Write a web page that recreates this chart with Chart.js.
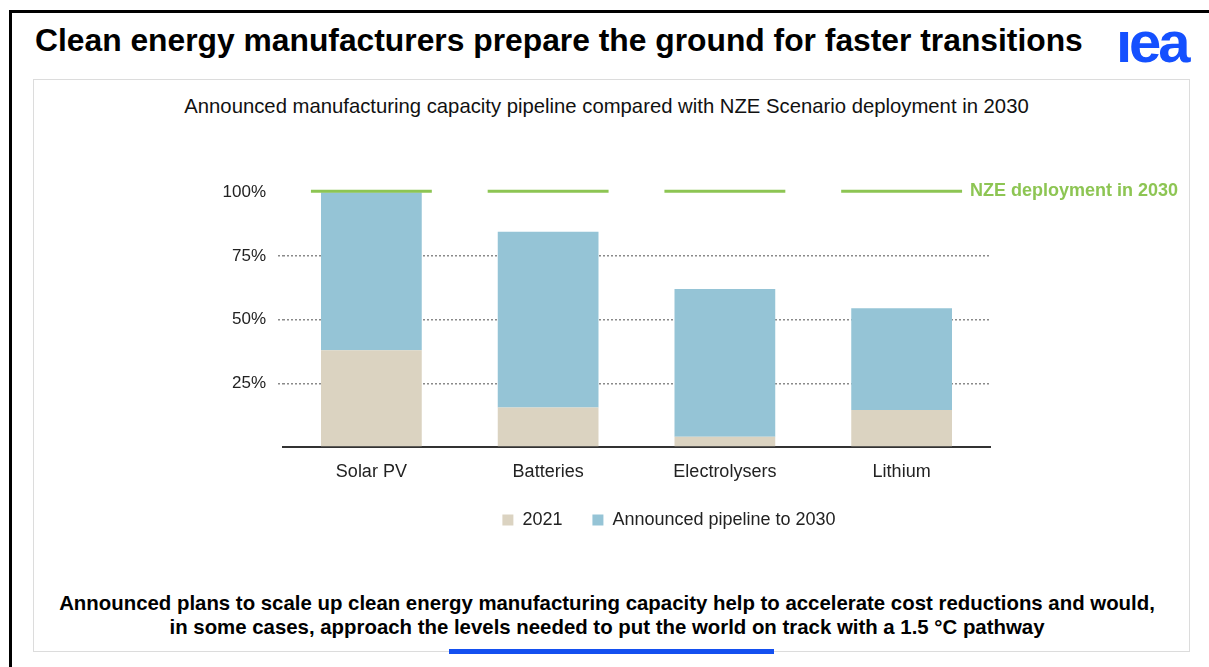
<!DOCTYPE html>
<html>
<head>
<meta charset="utf-8">
<script src="https://cdn.jsdelivr.net/npm/chart.js@4.4.1/dist/chart.umd.min.js"></script>
<style>
  html, body { margin: 0; padding: 0; background: #fff; }
  body { width: 1209px; height: 667px; position: relative; overflow: hidden; font-family: "Liberation Sans", Arial, sans-serif; }
  .frame { position: absolute; left: 9px; top: 10px; width: 1220px; height: 680px; border-left: 3px solid #000; border-top: 3px solid #000; }
  .title { position: absolute; left: 35px; top: 22px; font-size: 31.8px; font-weight: bold; color: #000; white-space: nowrap; }
  .logo { position: absolute; left: 1116px; top: 8px; font-size: 58px; font-weight: bold; color: #1450ff; letter-spacing: -3px; }
  .panel { position: absolute; left: 33px; top: 79px; width: 1155px; height: 571px; border: 1px solid #dcdcdc; }
  .subtitle { position: absolute; left: 0; width: 1213px; top: 95px; text-align: center; font-size: 20.3px; color: #111; }
  .chart-box { position: absolute; left: 180px; top: 170px; width: 1020px; height: 369px; }
  .note { position: absolute; left: 0; width: 1214px; top: 591px; text-align: center; font-size: 20.4px; font-weight: bold; line-height: 24px; color: #000; }
  .bluebar { position: absolute; left: 449px; top: 649px; width: 325px; height: 5px; background: #1450f0; }
</style>
</head>
<body>
<div class="frame"></div>
<div class="title">Clean energy manufacturers prepare the ground for faster transitions</div>
<div class="logo">ıea</div>
<div class="panel"></div>
<div class="subtitle">Announced manufacturing capacity pipeline compared with NZE Scenario deployment in 2030</div>
<div class="chart-box"><canvas id="chart"></canvas></div>
<div class="note">Announced plans to scale up clean energy manufacturing capacity help to accelerate cost reductions and would,<br>in some cases, approach the levels needed to put the world on track with a 1.5 °C pathway</div>
<div class="bluebar"></div>

<script>
// data (share of NZE 2030 deployment, %)
const categories = ['Solar PV', 'Batteries', 'Electrolysers', 'Lithium'];
const capacity2021 = [38, 15.5, 4, 14.5];
const pipeline2030 = [62, 69, 58, 40];
const nzeTarget = [100, 100, 100, 100];
const yTicks = [0, 25, 50, 75, 100];

const nzeLabel = 'NZE deployment in 2030';
const green = '#8dc553';
const fontFamily = '"Liberation Sans", Arial, sans-serif';
const hideEnds = ctx => (ctx.tick && (ctx.tick.value === 0 || ctx.tick.value === 100)) ? 'rgba(0,0,0,0)' : '#8a8a8a';

// green target lines per category + label after the last one
const nzePlugin = {
  id: 'nzeLines',
  afterLayout(chart) {
    // centre the legend under the page like the original (x = 669 on the page)
    const lg = chart.legend;
    const shift = 489 - (lg.left + lg.right) / 2;
    lg.left += shift;
    lg.right += shift;
  },
  afterDatasetsDraw(chart) {
    const ctx = chart.ctx;
    const xs = chart.scales.x, ys = chart.scales.y;
    const half = xs.width / categories.length * 0.684 / 2;
    ctx.save();
    ctx.strokeStyle = green;
    ctx.lineWidth = 3;
    let lastX = 0, lastY = 0;
    nzeTarget.forEach((v, i) => {
      const x = xs.getPixelForValue(i);
      const y = ys.getPixelForValue(v) - 1;
      ctx.beginPath();
      ctx.moveTo(x - half, y);
      ctx.lineTo(x + half, y);
      ctx.stroke();
      lastX = x + half; lastY = y;
    });
    ctx.fillStyle = green;
    ctx.font = 'bold 18px ' + fontFamily;
    ctx.textBaseline = 'middle';
    ctx.fillText(nzeLabel, lastX + 8, lastY);
    ctx.restore();
  }
};

new Chart(document.getElementById('chart'), {
  type: 'bar',
  data: {
    labels: categories,
    datasets: [
      {
        label: '2021',
        data: capacity2021,
        backgroundColor: '#dbd3c1',
        stack: 's',
        barPercentage: 0.57,
        categoryPercentage: 1,
      },
      {
        label: 'Announced pipeline to 2030',
        data: pipeline2030,
        backgroundColor: '#95c4d6',
        stack: 's',
        barPercentage: 0.57,
        categoryPercentage: 1,
      },
    ],
  },
  options: {
    responsive: true,
    maintainAspectRatio: false,
    animation: false,
    layout: { padding: { top: 22, right: 210, left: 0, bottom: 0 } },
    scales: {
      x: {
        stacked: true,
        grid: { display: false },
        border: { display: true, color: '#333', width: 2 },
        ticks: { color: '#222', font: { size: 18, family: fontFamily }, padding: 6 },
        afterFit(scale) { scale.height = 34; },
      },
      y: {
        stacked: true,
        min: 0,
        max: 100,
        afterBuildTicks(scale) { scale.ticks = yTicks.map(v => ({ value: v })); },
        afterFit(scale) { scale.width = 103; },
        border: { display: false, dash: [2, 2] },
        grid: {
          color: hideEnds,
          lineWidth: 1.5,
          drawTicks: true,
          tickLength: 5,
          tickColor: hideEnds,
          tickBorderDash: [2, 2],
        },
        ticks: {
          color: '#222',
          padding: 12,
          font: { size: 17, family: fontFamily },
          callback: v => v === 0 ? '' : v + '%',
        },
      },
    },
    plugins: {
      legend: {
        position: 'bottom',
        labels: {
          boxWidth: 11,
          boxHeight: 11,
          padding: 30,
          color: '#222',
          font: { size: 18, family: fontFamily },
        },
      },
      tooltip: { enabled: false },
    },
  },
  plugins: [nzePlugin],
});
</script>
</body>
</html>
